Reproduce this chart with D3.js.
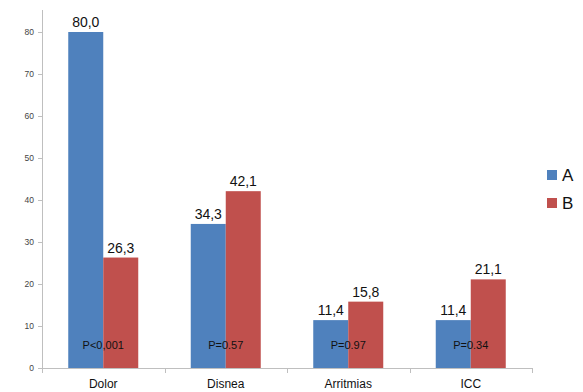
<!DOCTYPE html>
<html lang="es">
<head>
<meta charset="UTF-8">
<title>Chart</title>
<style>
    body { margin: 0; background: #fff; }
    svg { font-family: "Liberation Sans", Arial, sans-serif; }
</style>
</head>
<body>
<div id="chart"></div>
<script src="https://d3js.org/d3.v7.min.js"></script>
<script>
    // Data
    const categories = ["Dolor", "Disnea", "Arritmias", "ICC"];
    const seriesNames = ["A", "B"];
    const valuesA = [80.0, 34.3, 11.4, 11.4];
    const valuesB = [26.3, 42.1, 15.8, 21.1];
    const pLabels = ["P<0,001", "P=0.57", "P=0.97", "P=0.34"];
    const yTicks = [0, 10, 20, 30, 40, 50, 60, 70, 80];

    const width = 583, height = 392;
    const colors = ["#4F81BD", "#C0504D"];

    const svg = d3.select("#chart").append("svg")
        .attr("width", width)
        .attr("height", height);

    const x = d3.scaleBand().domain(categories).range([42, 532]);
    const xInner = d3.scaleBand().domain(seriesNames).range([0, 70])
    const y = d3.scaleLinear().domain([0, 80]).range([368, 32]);

    // y axis
    svg.append("line")
        .attr("x1", 42.5).attr("x2", 42.5)
        .attr("y1", 10).attr("y2", 368)
        .attr("stroke", "#bfbfbf");
    svg.selectAll(".ytick").data(yTicks).enter().append("line")
        .attr("x1", 38).attr("x2", 42)
        .attr("y1", d => Math.round(y(d)) + 0.5).attr("y2", d => Math.round(y(d)) + 0.5)
        .attr("stroke", "#bfbfbf");
    svg.selectAll(".ylab").data(yTicks).enter().append("text")
        .attr("x", 34).attr("y", d => y(d) + 3)
        .attr("text-anchor", "end")
        .attr("font-size", 8.5)
        .attr("fill", "#444")
        .text(d => d);

    // bars
    const series = [valuesA, valuesB];
    series.forEach((vals, si) => {
        svg.selectAll(".bar" + si).data(categories).enter().append("rect")
            .attr("x", d => x(d) + x.bandwidth() / 2 - 35 + xInner(seriesNames[si]))
            .attr("y", (d, i) => y(vals[i]))
            .attr("width", xInner.bandwidth())
            .attr("height", (d, i) => y(0) - y(vals[i]))
            .attr("fill", colors[si]);
        svg.selectAll(".val" + si).data(categories).enter().append("text")
            .attr("x", d => x(d) + x.bandwidth() / 2 - 35 + xInner(seriesNames[si]) + xInner.bandwidth() / 2)
            .attr("y", (d, i) => y(vals[i]) - 5)
            .attr("text-anchor", "middle")
            .attr("font-size", 14)
            .attr("fill", "#111")
            .text((d, i) => vals[i].toFixed(1).replace(".", ","));
    });

    // p labels
    svg.selectAll(".plab").data(categories).enter().append("text")
        .attr("x", d => x(d) + x.bandwidth() / 2)
        .attr("y", 349)
        .attr("text-anchor", "middle")
        .attr("font-size", 11)
        .attr("fill", "#111")
        .text((d, i) => pLabels[i]);

    // x axis
    svg.append("line")
        .attr("x1", 42).attr("x2", 532)
        .attr("y1", 368.5).attr("y2", 368.5)
        .attr("stroke", "#bfbfbf");
    const xEdges = categories.map(d => x(d)).concat([x.range()[1]]);
    svg.selectAll(".xtick").data(xEdges).enter().append("line")
        .attr("x1", d => Math.round(d) + 0.5).attr("x2", d => Math.round(d) + 0.5)
        .attr("y1", 368).attr("y2", 373)
        .attr("stroke", "#bfbfbf");
    svg.selectAll(".xlab").data(categories).enter().append("text")
        .attr("x", d => x(d) + x.bandwidth() / 2)
        .attr("y", 388)
        .attr("text-anchor", "middle")
        .attr("font-size", 12)
        .attr("fill", "#111")
        .text(d => d);

    // legend
    const legend = svg.selectAll(".leg").data(seriesNames).enter().append("g")
        .attr("transform", (d, i) => `translate(547, ${170 + i * 28})`);
    legend.append("rect")
        .attr("width", 10).attr("height", 10)
        .attr("fill", (d, i) => colors[i]);
    legend.append("text")
        .attr("x", 15).attr("y", 11)
        .attr("font-size", 17)
        .attr("fill", "#111")
        .text(d => d);
</script>
</body>
</html>
